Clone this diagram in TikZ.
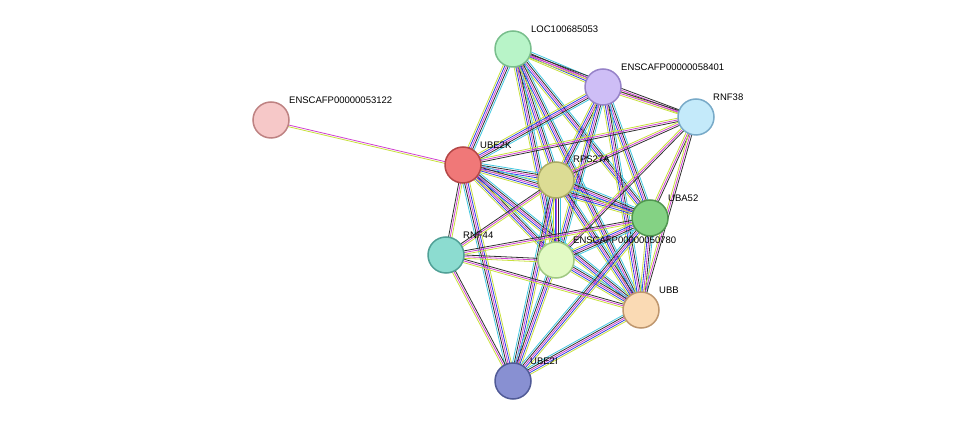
\documentclass[tikz,border=0pt]{standalone}
\usepackage{fontspec}
\setmainfont{Liberation Sans}
\usetikzlibrary{calc}
\definecolor{eyg}{HTML}{C8E03C}
\definecolor{emg}{HTML}{D040D0}
\definecolor{ebl}{HTML}{3040E0}
\definecolor{ebk}{HTML}{303030}
\definecolor{ecy}{HTML}{40C8E0}
\newcommand{\Edge}[3]{\foreach \c [count=\i] in {#3} {\draw[\c, line width=0.8pt] ($(#1)!{(\i-2.5)*1.7pt}!90:(#2)$) -- ($(#2)!{(\i-2.5)*1.7pt}!-90:(#1)$);}}
\tikzset{prot/.style={circle, minimum size=36pt, inner sep=0pt, line width=1.5pt},
lab/.style={anchor=south west, font=\fontsize{9.5pt}{10pt}\selectfont, inner sep=1pt}}
\begin{document}
\begin{tikzpicture}[x=1pt,y=-1pt]
\useasboundingbox (0,0) rectangle (975,427);
\coordinate (loc) at (513,49);
\coordinate (e58) at (603,87);
\coordinate (r38) at (696,117);
\coordinate (e53) at (271,120);
\coordinate (u2k) at (463,165);
\coordinate (rps) at (556,180);
\coordinate (uba) at (650,218);
\coordinate (r44) at (446,255);
\coordinate (e50) at (556,260);
\coordinate (ubb) at (641,310);
\coordinate (u2i) at (513,381);
\Edge{e53}{u2k}{eyg,emg}
\foreach \a/\b in {loc/e58,loc/u2k,loc/rps,loc/uba,loc/e50,loc/ubb,e58/u2k,e58/rps,e58/uba,e58/e50,e58/ubb,u2k/rps,u2k/uba,u2k/e50,u2k/ubb,rps/uba,rps/e50,rps/ubb,uba/e50,uba/ubb,e50/ubb,u2i/rps,u2i/e50,u2i/uba,u2i/ubb,u2i/u2k}{\Edge{\a}{\b}{eyg,ebl,emg,ebk,ecy}}
\foreach \a/\b in {loc/r38,e58/r38,r38/u2k,r38/rps,r38/uba,r38/ubb,r38/e50,r44/u2k,r44/rps,r44/e50,r44/uba,r44/ubb,r44/u2i}{\Edge{\a}{\b}{eyg,emg,ebk}}
\node[prot, fill={rgb,255:red,184;green,244;blue,200}, draw={rgb,255:red,120;green,190;blue,140}] (nloc) at (loc) {};
\node[prot, fill={rgb,255:red,206;green,190;blue,246}, draw={rgb,255:red,150;green,130;blue,200}] (ne58) at (e58) {};
\node[prot, fill={rgb,255:red,196;green,234;blue,250}, draw={rgb,255:red,120;green,170;blue,200}] (nr38) at (r38) {};
\node[prot, fill={rgb,255:red,246;green,200;blue,200}, draw={rgb,255:red,190;green,130;blue,130}] (ne53) at (e53) {};
\node[prot, fill={rgb,255:red,240;green,120;blue,120}, draw={rgb,255:red,180;green,70;blue,70}] (nu2k) at (u2k) {};
\node[prot, fill={rgb,255:red,220;green,220;blue,148}, draw={rgb,255:red,170;green,170;blue,100}] (nrps) at (rps) {};
\node[prot, fill={rgb,255:red,132;green,210;blue,132}, draw={rgb,255:red,80;green,150;blue,80}] (nuba) at (uba) {};
\node[prot, fill={rgb,255:red,140;green,220;blue,208}, draw={rgb,255:red,80;green,160;blue,150}] (nr44) at (r44) {};
\node[prot, fill={rgb,255:red,226;green,250;blue,196}, draw={rgb,255:red,160;green,200;blue,130}] (ne50) at (e50) {};
\node[prot, fill={rgb,255:red,250;green,218;blue,180}, draw={rgb,255:red,190;green,150;blue,110}] (nubb) at (ubb) {};
\node[prot, fill={rgb,255:red,136;green,144;blue,210}, draw={rgb,255:red,80;green,90;blue,150}] (nu2i) at (u2i) {};
\node[lab] (lloc) at (530,34) {LOC100685053};
\node[lab] (le58) at (620,72) {ENSCAFP00000058401};
\node[lab] (lr38) at (712,102) {RNF38};
\node[lab] (le53) at (288,105) {ENSCAFP00000053122};
\node[lab] (lu2k) at (479,150) {UBE2K};
\node[lab] (lrps) at (572,164) {RPS27A};
\node[lab] (luba) at (667,203) {UBA52};
\node[lab] (lr44) at (462,240) {RNF44};
\node[lab] (le50) at (572,245) {ENSCAFP00000050780};
\node[lab] (lubb) at (658,295) {UBB};
\node[lab] (lu2i) at (529,366) {UBE2I};
\end{tikzpicture}
\end{document}
